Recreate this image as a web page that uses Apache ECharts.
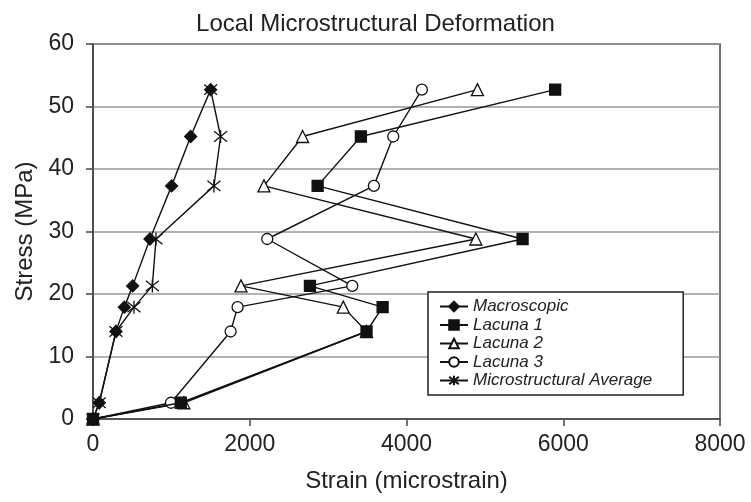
<!DOCTYPE html>
<html>
<head>
<meta charset="utf-8">
<script src="https://cdn.jsdelivr.net/npm/echarts@6/dist/echarts.min.js"></script>
<style>
  html, body { margin: 0; padding: 0; background: #fff; }
  #chart { width: 751px; height: 502px; }
</style>
</head>
<body>
<div id="chart"></div>
<script>
// stress levels (MPa) shared by every series
const stress = [0, 2.6, 14.0, 17.9, 21.3, 28.8, 37.3, 45.2, 52.7];

// strain values (microstrain) per series
const macroscopic = [0, 80, 293, 400, 506, 727, 1003, 1246, 1501];
const lacuna1 = [0, 1120, 3490, 3695, 2768, 5481, 2866, 3418, 5897];
const lacuna2 = [0, 1160, 3490, 3193, 1888, 4885, 2181, 2674, 4905];
const lacuna3 = [0, 995, 1756, 1845, 3308, 2223, 3584, 3831, 4196];
const microAverage = [0, 80, 293, 523, 757, 804, 1543, 1628, 1501];

const xTicks = [0, 2000, 4000, 6000, 8000];
const yTicks = [0, 10, 20, 30, 40, 50, 60];

const font = 'Liberation Sans, Arial, sans-serif';
const asterisk = 'path://M0,-10L0,10M-8,-8L8,8M-8,8L8,-8';

function pairs(xs) {
    return xs.map((x, i) => [x, stress[i]]);
}

function makeSeries(name, xs, symbol, size, filled, z) {
    return {
        name: name,
        type: 'line',
        data: pairs(xs),
        symbol: symbol,
        symbolSize: size,
        showAllSymbol: true,
        z: z,
        lineStyle: { color: '#111', width: 1.4 },
        itemStyle: {
            color: filled ? '#111' : '#fff',
            borderColor: '#111',
            borderWidth: 1.3
        },
        emphasis: { disabled: true },
        animation: false
    };
}

const chart = echarts.init(document.getElementById('chart'));

const option = {
    backgroundColor: '#fff',
    title: {
        text: 'Local Microstructural Deformation',
        left: 'center',
        top: 7,
        textStyle: { fontFamily: font, fontSize: 24, fontWeight: 'normal', color: '#222' }
    },
    grid: { left: 93, right: 31, top: 44, bottom: 83, show: true, borderColor: '#444', borderWidth: 1.5 },
    xAxis: {
        type: 'value',
        min: xTicks[0],
        max: xTicks[xTicks.length - 1],
        interval: 2000,
        name: 'Strain (microstrain)',
        nameLocation: 'middle',
        nameGap: 50,
        nameTextStyle: { fontFamily: font, fontSize: 24, color: '#222' },
        axisLine: { lineStyle: { color: '#444', width: 1.5 } },
        axisTick: { show: true, inside: false, length: 7, lineStyle: { color: '#444', width: 1.5 } },
        axisLabel: { fontFamily: font, fontSize: 23, color: '#222', margin: 14, formatter: v => String(v) },
        splitLine: { show: false }
    },
    yAxis: {
        type: 'value',
        min: yTicks[0],
        max: yTicks[yTicks.length - 1],
        interval: 10,
        name: 'Stress (MPa)',
        nameLocation: 'middle',
        nameGap: 56,
        nameTextStyle: { fontFamily: font, fontSize: 24, color: '#222' },
        axisLine: { lineStyle: { color: '#444', width: 1.5 } },
        axisTick: { show: true, inside: false, length: 7, lineStyle: { color: '#444', width: 1.5 } },
        axisLabel: { fontFamily: font, fontSize: 23, color: '#222', margin: 19, formatter: v => String(v) },
        splitLine: { show: true, lineStyle: { color: '#999', width: 1.5 } }
    },
    legend: {
        orient: 'vertical',
        left: 428,
        top: 292,
        itemWidth: 28,
        itemHeight: 12,
        itemGap: 1.5,
        padding: [6, 31, 6, 11],
        backgroundColor: '#fff',
        borderColor: '#222',
        borderWidth: 1.5,
        borderRadius: 0,
        textStyle: { fontFamily: font, fontSize: 17, lineHeight: 16, fontStyle: 'italic', color: '#222' },
        data: ['Macroscopic', 'Lacuna 1', 'Lacuna 2', 'Lacuna 3', 'Microstructural Average']
    },
    series: [
        makeSeries('Macroscopic', macroscopic, 'diamond', 12, true, 3),
        makeSeries('Lacuna 1', lacuna1, 'rect', 11, true, 5),
        makeSeries('Lacuna 2', lacuna2, 'triangle', 12, false, 2),
        makeSeries('Lacuna 3', lacuna3, 'circle', 11, false, 2),
        makeSeries('Microstructural Average', microAverage, asterisk, 13, true, 4)
    ]
};

chart.setOption(option);
</script>
</body>
</html>
